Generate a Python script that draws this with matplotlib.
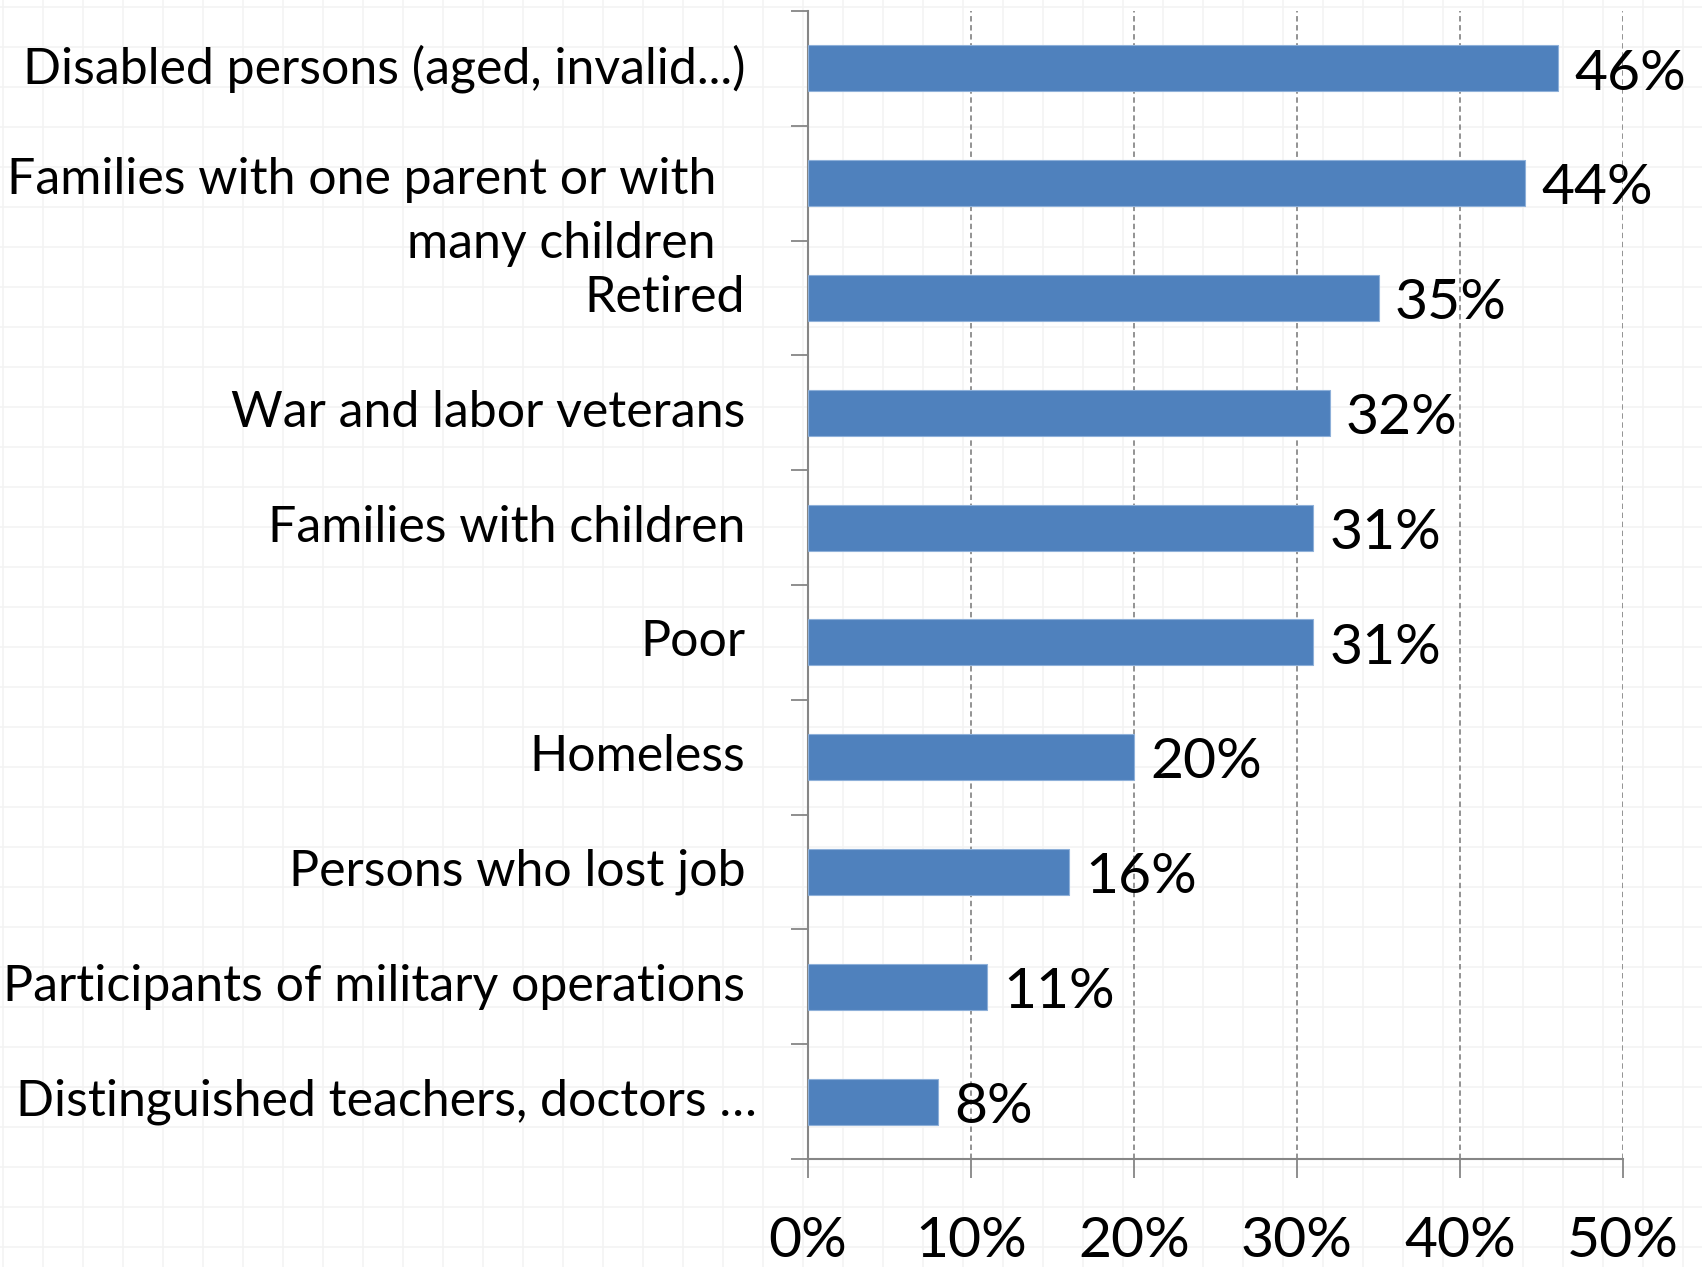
import numpy as np
import matplotlib.pyplot as plt
from matplotlib.ticker import FixedLocator, PercentFormatter

# data
categories = [
    "Disabled persons (aged, invalid...)",
    "Families with one parent or with\nmany children",
    "Retired",
    "War and labor veterans",
    "Families with children",
    "Poor",
    "Homeless",
    "Persons who lost job",
    "Participants of military operations",
    "Distinguished teachers, doctors \u2026",
]
values = [46, 44, 35, 32, 31, 31, 20, 16, 11, 8]
x_ticks = [0, 10, 20, 30, 40, 50]

plt.rcParams['font.family'] = ['Lato', 'DejaVu Sans']

W, H = 1702, 1267
fig = plt.figure(figsize=(W / 100, H / 100), dpi=100)

# faint paper grid in the background
bg = fig.add_axes([0, 0, 1, 1], zorder=-1)
bg.set_xlim(0, W)
bg.set_ylim(H, 0)
bg.set_xticks(np.arange(3, W, 40))
bg.set_yticks(np.arange(7, H, 40))
bg.grid(True, color='#f3f3f3', lw=1.2)
bg.tick_params(length=0, labelbottom=False, labelleft=False)
for s in bg.spines.values():
    s.set_visible(False)

ax = fig.add_axes([808 / W, 108 / H, 815 / W, 1148 / H])
ax.patch.set_alpha(0)

y = np.arange(len(categories))
ax.barh(y, values, height=0.4, color='#4f81bd', edgecolor='#8eb0d9', lw=0.8, zorder=3)

ax.set_xlim(0, 50)
ax.set_ylim(len(categories) - 0.5, -0.5)

# value labels
for yi, v in zip(y, values):
    ax.text(v + 1.0, yi + 0.05, f"{v}%", va='center', ha='left', fontsize=41, zorder=4)

# category labels
for yi, c in zip(y, categories):
    if "\n" in c:
        ax.text(-0.113, yi + 0.25, c, transform=ax.get_yaxis_transform(),
                ha='right', va='center', fontsize=36, linespacing=1.5)
    elif c.endswith("\u2026"):
        ax.text(-0.063, yi, c, transform=ax.get_yaxis_transform(),
                ha='right', va='center', fontsize=36)
    else:
        ax.text(-0.077, yi, c, transform=ax.get_yaxis_transform(),
                ha='right', va='center', fontsize=36)

ax.set_yticks([])
ax.yaxis.set_minor_locator(FixedLocator(np.arange(-0.5, len(categories), 1)))
ax.tick_params(axis='y', which='minor', length=12, width=1.3, color='#868686')

ax.set_xticks(x_ticks)
ax.xaxis.set_major_formatter(PercentFormatter(decimals=0))
ax.tick_params(axis='x', length=14, width=1.3, color='#868686', labelsize=41, pad=27)

ax.grid(axis='x', color='#8a8a8a', ls=(0, (3, 2)), lw=1.3, zorder=1)
for s in ['top', 'right']:
    ax.spines[s].set_visible(False)
for s in ['left', 'bottom']:
    ax.spines[s].set_color('#868686')
    ax.spines[s].set_linewidth(1.5)

fig.savefig('out.png', dpi=100)
